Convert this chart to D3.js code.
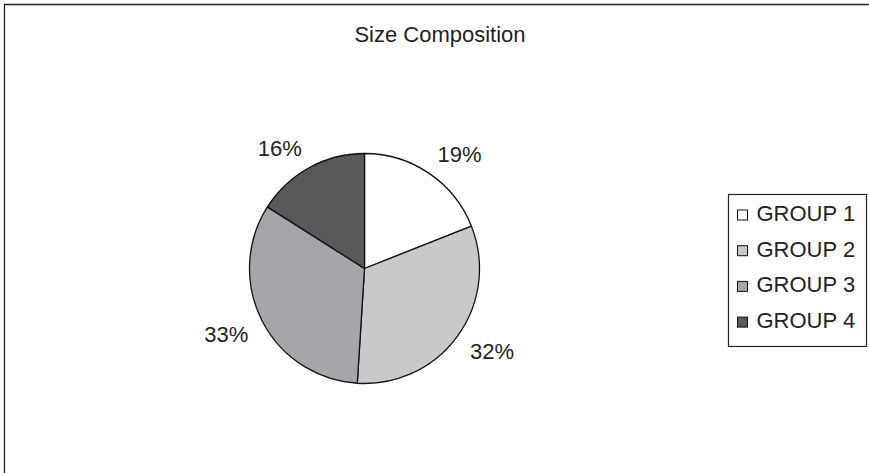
<!DOCTYPE html>
<html>
<head>
<meta charset="utf-8">
<script src="https://cdn.jsdelivr.net/npm/d3@7"></script>
<style>
  html, body { margin: 0; padding: 0; background: #fff; }
  svg { display: block; font-family: Arial, "Liberation Sans", sans-serif; }
</style>
</head>
<body>
<svg id="chart" width="869" height="473"></svg>
<script>
// Size composition by group
const categories = ["GROUP 1", "GROUP 2", "GROUP 3", "GROUP 4"];
const values = [19, 32, 33, 16];
const colors = ["#ffffff", "#c8c9cb", "#a5a6a9", "#58595b"];
const title = "Size Composition";

const svg = d3.select("#chart");

// outer chart frame (runs off the right and bottom edges)
svg.append("path")
  .attr("d", "M4.5,480 V4.5 H880")
  .attr("fill", "none")
  .attr("stroke", "#222")
  .attr("stroke-width", 1.3);

svg.append("text")
  .attr("x", 440)
  .attr("y", 41.5)
  .attr("text-anchor", "middle")
  .attr("font-size", 22)
  .attr("fill", "#222")
  .text(title);

const data = categories.map((c, i) => ({ name: c, value: values[i], color: colors[i] }));
const cx = 364.5, cy = 268.5, r = 115;

const pie = d3.pie().value(d => d.value).sort(null);
const arc = d3.arc().innerRadius(0).outerRadius(r);
const anchorArc = d3.arc().innerRadius(r + 16).outerRadius(r + 16);

const g = svg.append("g").attr("transform", `translate(${cx},${cy})`);
const arcs = pie(data);

g.selectAll("path.slice")
  .data(arcs)
  .join("path")
  .attr("class", "slice")
  .attr("d", arc)
  .attr("fill", d => d.data.color)
  .attr("stroke", "#111")
  .attr("stroke-width", 1.3)
  .attr("stroke-linejoin", "round");

// percentage labels sit outside the rim, pushed away from the pie by half their box
const total = d3.sum(values);
const labelW = 43, labelH = 12;
g.selectAll("text.pct")
  .data(arcs)
  .join("text")
  .attr("class", "pct")
  .attr("transform", d => {
    const [x, y] = anchorArc.centroid(d);
    const lx = x + Math.sign(x) * labelW / 2;
    const ly = y + Math.sign(y) * labelH / 2;
    return `translate(${lx},${ly})`;
  })
  .attr("text-anchor", "middle")
  .attr("dy", "0.36em")
  .attr("font-size", 22)
  .attr("fill", "#222")
  .text(d => Math.round(d.data.value / total * 100) + "%");

// legend
const lg = svg.append("g").attr("transform", "translate(728.5,194.5)");
lg.append("rect")
  .attr("width", 138)
  .attr("height", 152)
  .attr("fill", "#fff")
  .attr("stroke", "#222")
  .attr("stroke-width", 1.2);

const rows = lg.selectAll("g.row")
  .data(data)
  .join("g")
  .attr("class", "row")
  .attr("transform", (d, i) => `translate(0,${18.5 + i * 35.7})`);

rows.append("rect")
  .attr("x", 9)
  .attr("y", -3)
  .attr("width", 10)
  .attr("height", 10)
  .attr("fill", d => d.color)
  .attr("stroke", "#111")
  .attr("stroke-width", 1);

rows.append("text")
  .attr("x", 28)
  .attr("y", 0)
  .attr("dy", "0.36em")
  .attr("font-size", 22)
  .attr("fill", "#222")
  .text(d => d.name);
</script>
</body>
</html>
